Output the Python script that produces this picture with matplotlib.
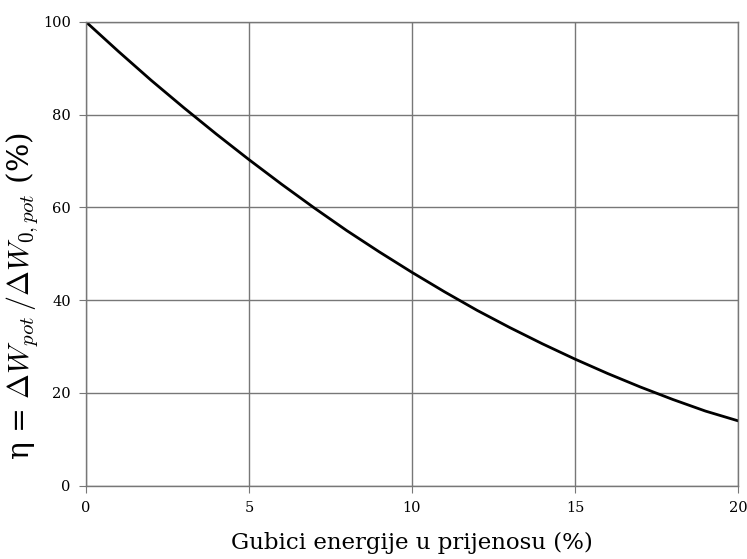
import matplotlib
matplotlib.use('Agg')
import matplotlib.pyplot as plt

plt.rcParams['font.family'] = ['DejaVu Serif']
plt.rcParams['mathtext.fontset'] = 'cm'

# gubici energije (%) i iskoristivost (%)
gubici = [0, 1, 2, 3, 4, 5, 6, 7, 8, 9, 10, 11, 12, 13, 14, 15, 16, 17, 18, 19, 20]
eta = [100, 93.6, 87.4, 81.5, 75.8, 70.3, 65.0, 59.9, 55.0, 50.4, 46.0,
       41.8, 37.8, 34.1, 30.6, 27.3, 24.2, 21.3, 18.6, 16.1, 14.0]
x_ticks = [0, 5, 10, 15, 20]
y_ticks = [0, 20, 40, 60, 80, 100]

fig = plt.figure(figsize=(7.47, 5.59), dpi=100)
ax = fig.add_axes([0.115, 0.131, 0.873, 0.830])

ax.plot(gubici, eta, color='black', linewidth=2)

ax.set_xlim(0, 20)
ax.set_ylim(0, 100)
ax.set_xticks(x_ticks)
ax.set_yticks(y_ticks)
ax.grid(True, color='#777777', linewidth=1)
for s in ax.spines.values():
    s.set_color('#777777')
    s.set_linewidth(1)
ax.tick_params(direction='out', length=5, color='#777777', labelsize=10.5, pad=6)

ax.set_xlabel('Gubici energije u prijenosu (%)', fontsize=16.5, labelpad=12)
ax.set_ylabel(r'η = $\Delta W_{pot}\,/\Delta W_{0,pot}$ (%)', fontsize=21.5)
ax.yaxis.set_label_coords(-0.07, 0.41)

plt.savefig('out.png', dpi=100)
